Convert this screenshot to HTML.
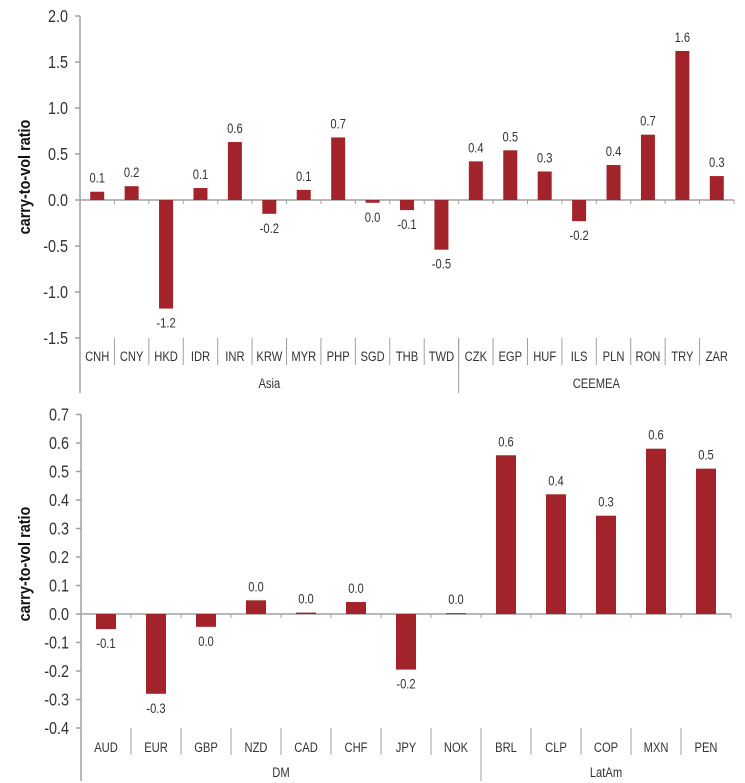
<!DOCTYPE html>
<html><head><meta charset="utf-8"><style>
body{margin:0;background:#fff;}
svg{display:block;font-family:"Liberation Sans Narrow","Liberation Sans",sans-serif;}
</style></head><body>
<svg id="chart" width="745" height="783" viewBox="0 0 745 783" xmlns="http://www.w3.org/2000/svg"></svg>
<script>
const topCats = ["CNH","CNY","HKD","IDR","INR","KRW","MYR","PHP","SGD","THB","TWD","CZK","EGP","HUF","ILS","PLN","RON","TRY","ZAR"];
const topValues = [0.09,0.15,-1.18,0.13,0.63,-0.15,0.11,0.68,-0.03,-0.11,-0.54,0.42,0.54,0.31,-0.23,0.38,0.71,1.62,0.26];
const topLabels = ["0.1","0.2","-1.2","0.1","0.6","-0.2","0.1","0.7","0.0","-0.1","-0.5","0.4","0.5","0.3","-0.2","0.4","0.7","1.6","0.3"];
const topTicks = [2.0,1.5,1.0,0.5,0.0,-0.5,-1.0,-1.5];
const topGroups = [["Asia",11],["CEEMEA",8]];
const botCats = ["AUD","EUR","GBP","NZD","CAD","CHF","JPY","NOK","BRL","CLP","COP","MXN","PEN"];
const botValues = [-0.053,-0.28,-0.045,0.048,0.005,0.042,-0.195,0.003,0.557,0.42,0.345,0.58,0.51];
const botLabels = ["-0.1","-0.3","0.0","0.0","0.0","0.0","-0.2","0.0","0.6","0.4","0.3","0.6","0.5"];
const botTicks = [0.7,0.6,0.5,0.4,0.3,0.2,0.1,0.0,-0.1,-0.2,-0.3,-0.4];
const botGroups = [["DM",8],["LatAm",5]];

const NS="http://www.w3.org/2000/svg";
const svg=document.getElementById('chart');
function el(tag,attrs,parent){const e=document.createElementNS(NS,tag);for(const k in attrs)e.setAttribute(k,attrs[k]);(parent||svg).appendChild(e);return e;}
function txt(parent,x,y,s,size,anchor,weight){
  return el('text',{x:0,y:0,'text-anchor':anchor,'font-size':size,'font-weight':weight||'normal',fill:'#333',transform:`translate(${x},${y}) scale(0.8,1)`},parent);
}
const AX="#a0a0a0", BAR="#a3232a";

function drawChart(cfg, cats, vals, labels, ticks, groups, name){
  const g=el('g',{});
  
  
  const y=v=>cfg.y0-v*cfg.scale;
  const cw=(cfg.x1-cfg.x0)/cats.length;
  const x=i=>cfg.x0+i*cw;
  const yMin=y(ticks[ticks.length-1]);
  const ax=el('line',{x1:cfg.x0,y1:y(ticks[0]),x2:cfg.x0,y2:cfg.bottom,stroke:AX,'stroke-width':1.5},g);
  
  
  ticks.forEach(t=>{
    el('line',{x1:cfg.x0-5,y1:y(t),x2:cfg.x0,y2:y(t),stroke:AX,'stroke-width':1.5},g);
    const tl=txt(g,cfg.x0-12,y(t)+6,'',18,'end');
    tl.textContent=t.toFixed(1);
    
    
  });
  const tt=el('text',{x:0,y:0,'text-anchor':'middle','font-size':17,'font-weight':'bold',fill:'#111',transform:`translate(${cfg.titleX},${cfg.titleY}) rotate(-90) scale(0.85,1)`},g);
  tt.textContent='carry-to-vol ratio';
  
  
  const zl=el('line',{x1:cfg.x0,y1:y(0),x2:cfg.x1,y2:y(0),stroke:AX,'stroke-width':1.5},g);
  
  
  cats.forEach((c,i)=>{
    el('line',{x1:x(i+1),y1:y(0),x2:x(i+1),y2:y(0)+4,stroke:AX,'stroke-width':1},g);
    const v=vals[i];
    const r=el('rect',{x:x(i)+cw/2-cfg.bw/2,y:Math.min(y(v),y(0)),width:cfg.bw,height:Math.max(Math.abs(y(v)-y(0)),1),fill:BAR},g);
    
    
    const ly=v>=0?y(v)-9:y(v)+19;
    const lt=txt(g,x(i)+cw/2,ly,'',14,'middle');
    lt.textContent=labels[i];
    
    
    const ct=txt(g,x(i)+cw/2,yMin+cfg.catDy,'',14,'middle');
    ct.textContent=c;
    
    
    if(i>0) el('line',{x1:x(i),y1:yMin,x2:x(i),y2:yMin+cfg.rowH,stroke:AX,'stroke-width':1},g);
  });
  let acc=0;
  groups.forEach((gr,gi)=>{
    const gx0=x(acc), gx1=x(acc+gr[1]);
    const t=txt(g,(gx0+gx1)/2,cfg.groupY,'',14,'middle');
    t.textContent=gr[0];
    
    
    acc+=gr[1];
    if(gi<groups.length-1) el('line',{x1:x(acc),y1:yMin,x2:x(acc),y2:cfg.bottom,stroke:AX,'stroke-width':1},g);
  });
}
drawChart({x0:80,x1:734,y0:200,scale:92,bw:14,bottom:393,catDy:23,rowH:27,groupY:388,titleX:30,titleY:177},
  topCats,topValues,topLabels,topTicks,topGroups,'asia-ceemea-chart');
drawChart({x0:81,x1:731,y0:614,scale:285,bw:20,bottom:781,catDy:24,rowH:27,groupY:777,titleX:30,titleY:564},
  botCats,botValues,botLabels,botTicks,botGroups,'dm-latam-chart');
</script>
</body></html>
